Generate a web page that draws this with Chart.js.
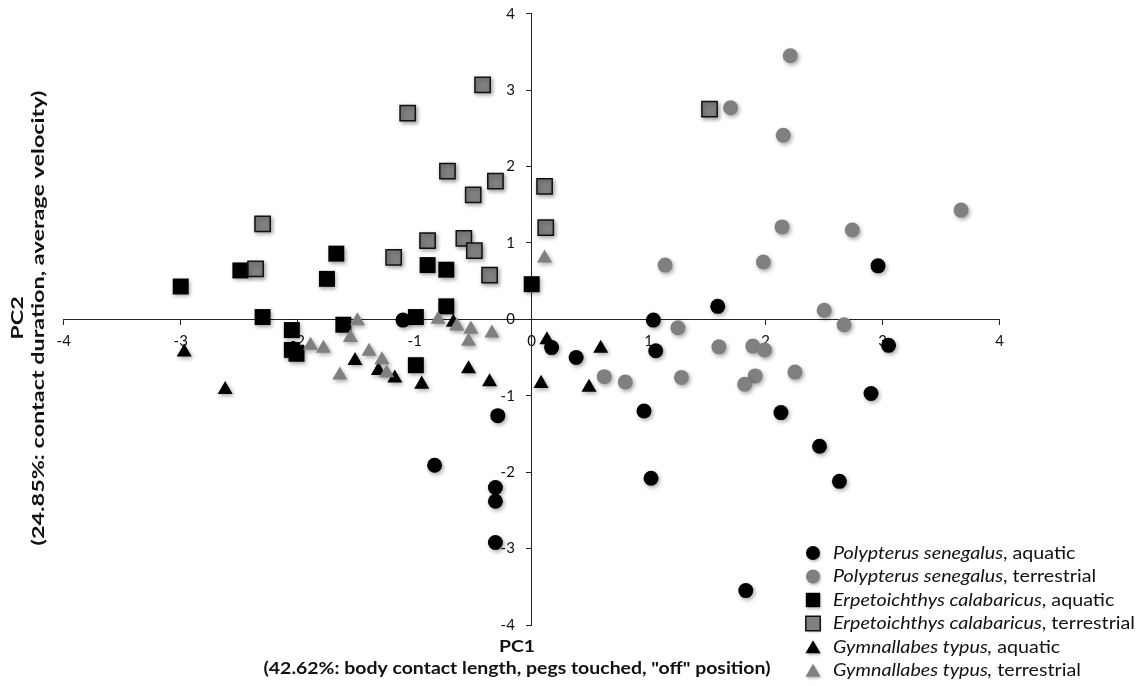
<!DOCTYPE html>
<html>
<head>
<meta charset="utf-8">
<script src="https://cdn.jsdelivr.net/npm/chart.js@4.4.1/dist/chart.umd.min.js"></script>
<style>
html,body{margin:0;padding:0;background:#fff;}
#wrap{width:1142px;height:686px;}
</style>
</head>
<body>
<div id="wrap"><canvas id="c" width="1142" height="686"></canvas></div>
<script>
// ---- Data ----
const seriesNames = [
  ["Polypterus senegalus", ", aquatic"],
  ["Polypterus senegalus", ", terrestrial"],
  ["Erpetoichthys calabaricus", ", aquatic"],
  ["Erpetoichthys calabaricus", ", terrestrial"],
  ["Gymnallabes typus,", " aquatic"],
  ["Gymnallabes typus,", " terrestrial"]
];
const xTickValues = [-4, -3, -2, -1, 0, 1, 2, 3, 4];
const yTickValues = [-4, -3, -2, -1, 0, 1, 2, 3, 4];

const psAquaticX = [-1.10, -0.29, -0.83, -0.31, -0.31, -0.31, 1.04, 1.59, 0.17, 0.38, 1.06, 3.05, 0.96, 2.13, 2.90, 2.46, 1.02, 2.63, 1.83, 2.96];
const psAquaticY = [-0.01, -1.26, -1.91, -2.20, -2.38, -2.92, -0.01, 0.17, -0.37, -0.50, -0.41, -0.34, -1.20, -1.22, -0.97, -1.66, -2.08, -2.12, -3.55, 0.70];

const psTerrX = [2.21, 1.70, 2.15, 3.67, 2.14, 2.74, 1.14, 1.98, 2.50, 2.67, 1.25, 1.60, 1.89, 1.99, 0.62, 0.80, 1.28, 1.91, 1.82, 2.25];
const psTerrY = [3.45, 2.77, 2.41, 1.43, 1.21, 1.17, 0.71, 0.75, 0.12, -0.07, -0.11, -0.36, -0.35, -0.40, -0.75, -0.82, -0.76, -0.74, -0.85, -0.69];

const ecAquaticX = [-3.00, -2.49, -1.67, -1.75, -0.89, -0.73, 0.00, -0.73, -2.30, -0.99, -1.61, -2.05, -2.05, -2.01, -0.99];
const ecAquaticY = [0.43, 0.64, 0.86, 0.53, 0.71, 0.65, 0.46, 0.17, 0.03, 0.03, -0.07, -0.14, -0.40, -0.45, -0.60];

const ecTerrX = [-0.42, -1.06, -0.72, -0.31, -0.50, 0.11, 0.12, -2.30, -2.36, -0.89, -1.18, -0.58, -0.49, -0.36, 1.52];
const ecTerrY = [3.07, 2.70, 1.94, 1.81, 1.63, 1.74, 1.20, 1.25, 0.66, 1.03, 0.81, 1.06, 0.90, 0.58, 2.75];

const gtAquaticX = [-2.97, -2.62, -1.51, -1.31, -1.17, -0.94, -0.54, -0.36, 0.08, -0.67, 0.13, 0.59, 0.49];
const gtAquaticY = [-0.43, -0.92, -0.54, -0.67, -0.77, -0.85, -0.65, -0.82, -0.84, -0.04, -0.27, -0.38, -0.89];

const gtTerrX = [0.11, -1.49, -1.55, -1.89, -1.78, -0.80, -0.64, -0.52, -0.54, -0.34, -1.64, -1.39, -1.28, -1.24];
const gtTerrY = [0.80, -0.02, -0.24, -0.34, -0.38, 0.00, -0.09, -0.13, -0.29, -0.18, -0.73, -0.42, -0.53, -0.70];

const xTitle = ["PC1", "(42.62%: body contact length, pegs touched, \"off\" position)"];
const yTitle = ["PC2", "(24.85%: contact duration, average velocity)"];

// ---- Build datasets ----
function pts(xs, ys) { return xs.map((x, i) => ({x: x, y: ys[i]})); }
const GRAY = '#808080';
const styles = [
  {pointStyle: 'circle', pointRadius: 7.5, backgroundColor: '#000', borderColor: '#000', borderWidth: 0},
  {pointStyle: 'circle', pointRadius: 7.5, backgroundColor: GRAY, borderColor: GRAY, borderWidth: 0},
  {pointStyle: 'rect', pointRadius: 11.3, backgroundColor: '#000', borderColor: '#000', borderWidth: 0},
  {pointStyle: 'rect', pointRadius: 10.8, backgroundColor: GRAY, borderColor: '#111', borderWidth: 1.5},
  {pointStyle: 'triangle', pointRadius: 8.7, backgroundColor: '#000', borderColor: '#000', borderWidth: 0},
  {pointStyle: 'triangle', pointRadius: 8.7, backgroundColor: GRAY, borderColor: GRAY, borderWidth: 0}
];
const allData = [
  pts(psAquaticX, psAquaticY), pts(psTerrX, psTerrY),
  pts(ecAquaticX, ecAquaticY), pts(ecTerrX, ecTerrY),
  pts(gtAquaticX, gtAquaticY), pts(gtTerrX, gtTerrY)
];
const datasets = allData.map((d, i) => Object.assign({
  label: seriesNames[i].join(''),
  data: d,
  order: 5 - i,
  pointHoverRadius: styles[i].pointRadius,
  clip: false
}, styles[i], {pointBorderWidth: styles[i].borderWidth}));

const FONT = 'Lato, "Open Sans", sans-serif';

function drawMarker(ctx, style, x, y) {
  ctx.beginPath();
  const r = style.pointRadius;
  if (style.pointStyle === 'circle') {
    ctx.arc(x, y, r, 0, Math.PI * 2);
  } else if (style.pointStyle === 'rect') {
    const s = Math.SQRT1_2 * r;
    ctx.rect(x - s, y - s, 2 * s, 2 * s);
  } else {
    ctx.moveTo(x, y - r);
    ctx.lineTo(x + Math.sin(2 * Math.PI / 3) * r, y - Math.cos(2 * Math.PI / 3) * r);
    ctx.lineTo(x + Math.sin(4 * Math.PI / 3) * r, y - Math.cos(4 * Math.PI / 3) * r);
    ctx.closePath();
  }
  ctx.fillStyle = style.backgroundColor;
  ctx.fill();
  if (style.borderWidth) {
    ctx.shadowColor = 'transparent';
    ctx.lineWidth = style.borderWidth;
    ctx.strokeStyle = style.borderColor;
    ctx.stroke();
  }
}

// draw text stretched along its baseline to a target width (text stays real text)
function stretchedText(ctx, text, x, y, sx) {
  ctx.save();
  ctx.translate(x, y);
  ctx.scale(sx, 1);
  ctx.fillText(text, 0, 0);
  ctx.restore();
}

const extras = {
  id: 'extras',
  beforeDatasetsDraw(chart) {
    const ctx = chart.ctx;
    ctx.save();
    ctx.shadowColor = 'rgba(0,0,0,0.35)';
    ctx.shadowBlur = 4;
    ctx.shadowOffsetX = 1.5;
    ctx.shadowOffsetY = 2;
  },
  afterDatasetsDraw(chart) {
    chart.ctx.restore();
  },
  afterDraw(chart) {
    const ctx = chart.ctx;
    ctx.save();
    ctx.fillStyle = '#111';
    // X axis title
    ctx.font = 'bold 17px ' + FONT;
    ctx.textAlign = 'center';
    ctx.textBaseline = 'middle';
    const sxX = 507 / ctx.measureText(xTitle[1]).width;
    stretchedText(ctx, xTitle[0], 517, 647, sxX);
    stretchedText(ctx, xTitle[1], 517, 669, sxX);
    // Y axis title
    const sxY = 455 / ctx.measureText(yTitle[1]).width;
    ctx.save();
    ctx.translate(18, 318);
    ctx.rotate(-Math.PI / 2);
    stretchedText(ctx, yTitle[0], 0, 0, sxY);
    ctx.restore();
    ctx.save();
    ctx.translate(39, 318);
    ctx.rotate(-Math.PI / 2);
    stretchedText(ctx, yTitle[1], 0, 0, sxY);
    ctx.restore();
    // Legend
    const rowsY = [553, 576.5, 600, 623.5, 647, 670.5];
    ctx.textAlign = 'left';
    ctx.textBaseline = 'middle';
    ctx.font = 'italic 18px ' + FONT;
    const wIt = ctx.measureText(seriesNames[3][0]).width;
    ctx.font = '18px ' + FONT;
    const wRg = ctx.measureText(seriesNames[3][1]).width;
    const sxL = 302 / (wIt + wRg);
    seriesNames.forEach((nm, i) => {
      const y = rowsY[i];
      ctx.save();
      ctx.shadowColor = 'rgba(0,0,0,0.3)';
      ctx.shadowBlur = 3;
      ctx.shadowOffsetX = 1;
      ctx.shadowOffsetY = 1.5;
      const st = Object.assign({}, styles[i]);
      if (st.pointStyle === 'rect') st.pointRadius = 10.2;
      if (st.pointStyle === 'circle') st.pointRadius = 7;
      drawMarker(ctx, st, 813, st.pointStyle === 'triangle' ? y + 2 : y);
      ctx.restore();
      ctx.fillStyle = '#111';
      ctx.font = 'italic 18px ' + FONT;
      const w = ctx.measureText(nm[0]).width;
      stretchedText(ctx, nm[0], 833, y, sxL);
      ctx.font = '18px ' + FONT;
      stretchedText(ctx, nm[1], 833 + w * sxL, y, sxL);
    });
    ctx.restore();
  }
};

function zeroPadding(s) { s.paddingTop = 0; s.paddingBottom = 0; s.paddingLeft = 0; s.paddingRight = 0; }

const axisCommon = {
  type: 'linear',
  min: -4, max: 4,
  grid: {drawOnChartArea: false, drawTicks: true, tickLength: 5, color: '#222', lineWidth: 1},
  border: {display: true, color: '#222', width: 1},
  afterFit: zeroPadding
};

new Chart(document.getElementById('c'), {
  type: 'scatter',
  data: {datasets: datasets},
  options: {
    responsive: false,
    animation: false,
    events: [],
    layout: {padding: {left: 63.7, right: 142.3, top: 13.7, bottom: 61}},
    plugins: {legend: {display: false}, tooltip: {enabled: false}},
    scales: {
      x: Object.assign({}, axisCommon, {
        position: {y: 0},
        afterBuildTicks: (s) => { s.ticks = xTickValues.map(v => ({value: v})); },
        ticks: {padding: 8, color: '#111', font: {family: FONT, size: 15}, maxRotation: 0, autoSkip: false}
      }),
      y: Object.assign({}, axisCommon, {
        position: {x: 0},
        afterBuildTicks: (s) => { s.ticks = yTickValues.map(v => ({value: v})); },
        // label sits right-aligned on the axis for a centred axis, so trailing spaces give the gap seen in the reference
        ticks: {color: '#111', font: {family: FONT, size: 15}, autoSkip: false,
                callback: (v) => String(v) + '\u2002\u2002\u2009'}
      })
    }
  },
  plugins: [extras]
});
</script>
</body>
</html>
